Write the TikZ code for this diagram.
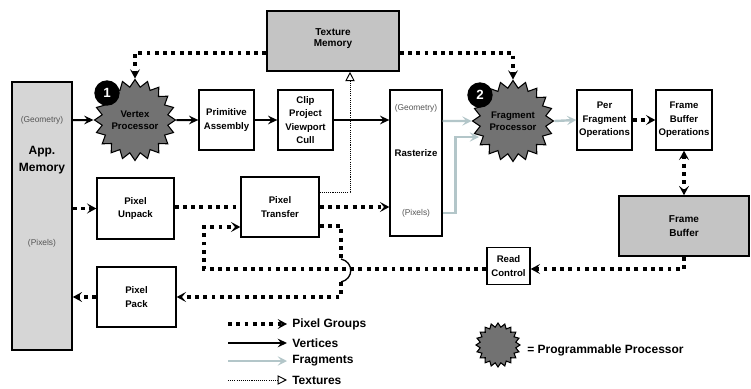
\documentclass[tikz,border=0pt]{standalone}
\usepackage{fontspec}
\setmainfont{Liberation Sans}
\usetikzlibrary{arrows.meta,shapes.geometric,calc}
\definecolor{amfill}{HTML}{D6D6D6}
\definecolor{tmfill}{HTML}{C4C4C4}
\definecolor{starfill}{HTML}{727272}
\definecolor{fraggray}{HTML}{B3C6C9}
\definecolor{lblgray}{HTML}{555555}
\begin{document}
\begin{tikzpicture}[x=0.75pt,y=-0.75pt,
 box/.style={draw, line width=1pt, fill=white, align=center, font=\bfseries\fontsize{7.2}{10}\selectfont, inner sep=0pt},
 membox/.style={box, fill=tmfill, line width=1.2pt, font=\bfseries\fontsize{7.5}{10.5}\selectfont},
 proc/.style={star, star points=20, star point ratio=1.22, minimum size=57pt, inner sep=0pt, draw, line width=0.8pt, fill=starfill, align=center, font=\bfseries\fontsize{7.2}{9}\selectfont},
 badge/.style={circle, fill=black, text=white, minimum size=19pt, inner sep=0pt, font=\bfseries\fontsize{10}{10}\selectfont},
 small/.style={font=\fontsize{6.3}{7}\selectfont, text=lblgray, inner sep=0pt},
 vtx/.style={line width=1.5pt, -{Stealth[length=7pt,width=6.5pt,inset=2.5pt]}},
 pgline/.style={line width=2.8pt, dash pattern=on 2.9pt off 3.3pt},
 pg/.style={pgline, -{Stealth[length=7pt,width=7.5pt,inset=3pt]}},
 frag/.style={line width=1.8pt, fraggray, -{Stealth[length=7pt,width=7pt,inset=3pt]}},
 tex/.style={line width=0.7pt, dash pattern=on 0.8pt off 0.8pt, -{Triangle[open,length=7pt,width=7pt,line width=0.7pt]}},
 lgd/.style={anchor=west, font=\bfseries\fontsize{9}{10}\selectfont, inner sep=0pt}
]
\path[use as bounding box] (0,0) rectangle (751,389);

% App memory
\node[box, fill=amfill, line width=1.2pt, minimum width=45pt, minimum height=201pt] (am) at (42,216) {};
\node[font=\bfseries\fontsize{9}{12.5}\selectfont, align=center] (amt) at (42,160) {App.\\Memory};
\node[small] (amg) at (42,120) {(Geometry)};
\node[small] (amp) at (42,243) {(Pixels)};

% texture memory
\node[membox, minimum width=99pt, minimum height=45pt] (tm) at (333,41) {\raisebox{5pt}{\shortstack{Texture\\Memory}}};

% processors
\node[proc] (vp) at (135,120) {Vertex\\Processor};
\node[badge] (b1) at (107,93) {1};
\node[proc] (fp) at (513,121) {Fragment\\Processor};
\node[badge] (b2) at (480,95) {2};

% geometry boxes
\node[box, minimum width=41.25pt, minimum height=45pt] (pa) at (226.5,120) {Primitive\\Assembly};
\node[box, minimum width=41.25pt, minimum height=45pt] (cl) at (305.5,120) {Clip\\Project\\Viewport\\Cull};
\node[box, minimum width=39pt, minimum height=109.5pt] (ra) at (416,163) {};
\node[font=\bfseries\fontsize{7.2}{9}\selectfont] (rat) at (416,153) {Rasterize};
\node[small] (rag) at (416,108) {(Geometry)};
\node[small] (rap) at (416,213) {(Pixels)};
\node[box, minimum width=41.25pt, minimum height=45pt] (pfo) at (604.5,120) {Per\\Fragment\\Operations};
\node[box, minimum width=42pt, minimum height=45pt] (fbo) at (684,120) {Frame\\Buffer\\Operations};
\node[membox, minimum width=97.5pt, minimum height=45pt] (fb) at (684,226) {Frame\\Buffer};

% pixel boxes
\node[box, minimum width=57.75pt, minimum height=45.75pt] (pu) at (135.5,208.5) {Pixel\\Unpack};
\node[box, minimum width=58.5pt, minimum height=45pt] (pt) at (280,207) {Pixel\\Transfer};
\node[box, minimum width=59.25pt, minimum height=45pt] (pp) at (136.5,297) {Pixel\\Pack};
\node[box, minimum width=32.25pt, minimum height=27.75pt] (rc) at (508.5,266) {Read\\Control};

% vertex path
\draw[vtx] (am.east |- vp) -- (vp.west);
\draw[vtx] (vp.east) -- (pa.west);
\draw[vtx] (pa.east) -- (cl.west);
\draw[vtx] (cl.east) -- (cl.east -| ra.west);

% fragments
\coordinate (fpin) at (479,137);
\draw[frag] (ra.east |- fp) -- (fp.west);
\draw[frag] (ra.east |- rap) -- ++(13,0) |- (fpin);
\draw[frag] (fp.east) -- (pfo.west);

% pixel groups
\draw[pg] ([yshift=-9pt]tm.west) -| (vp.north);
\draw[pg] ([yshift=-9pt]tm.east) -| (fp.north);
\draw[pg] (pfo.east) -- (fbo.west);
\draw[pgline, {Stealth[length=7pt,width=7.5pt,inset=3pt]}-{Stealth[length=7pt,width=7.5pt,inset=3pt]}] (fbo.south) -- (fb.north);
\draw[pg] (am.east |- pu) -- (pu.west);
\draw[pgline] (pt.west -| pu.east) -- (pt.west);
\draw[pg] (pt.east) -- (pt.east -| ra.west);
\coordinate (hopT) at (341,259);
\coordinate (hopB) at (341,282);
\draw[pgline] ([yshift=-14.25pt]pt.east) -| (hopT);
\draw[line width=1pt] (hopT) .. controls +(13,3) and +(13,-3) .. (hopB);
\draw[pg] (hopB) |- (pp.east);
\draw[pg] (pp.west) -- (pp.west -| am.east);
\coordinate (lp) at (204,269);
\draw[pg] (fb.south) |- (rc.east |- lp);
\draw[pg] (rc.west |- lp) -- (lp) |- ([yshift=-15pt]pt.west);

% texture
\coordinate (tx) at (350,192);
\draw[tex] (pt.east |- tx) -- (tx) -- (tx |- tm.south);

% legend
\coordinate (l1s) at (228,324); \coordinate (l1e) at (287,324);
\coordinate (l2s) at (228,343); \coordinate (l2e) at (287,343);
\coordinate (l3s) at (228,361); \coordinate (l3e) at (287,361);
\coordinate (l4s) at (228,380); \coordinate (l4e) at (287,380);
\draw[pg] (l1s) -- (l1e);
\draw[vtx] (l2s) -- (l2e);
\draw[frag] (l3s) -- (l3e);
\draw[tex] (l4s) -- (l4e);
\node[lgd] (lg1) at (292,324) {Pixel Groups};
\node[lgd] (lg2) at (292,343) {Vertices};
\node[lgd] (lg3) at (292,361) {Fragments};
\node[lgd] (lg4) at (292,380) {Textures};
\node[proc, minimum size=33pt] (lgs) at (498,345) {};
\node[lgd] (lg5) at (527,350) {= Programmable Processor};
\end{tikzpicture}
\end{document}
